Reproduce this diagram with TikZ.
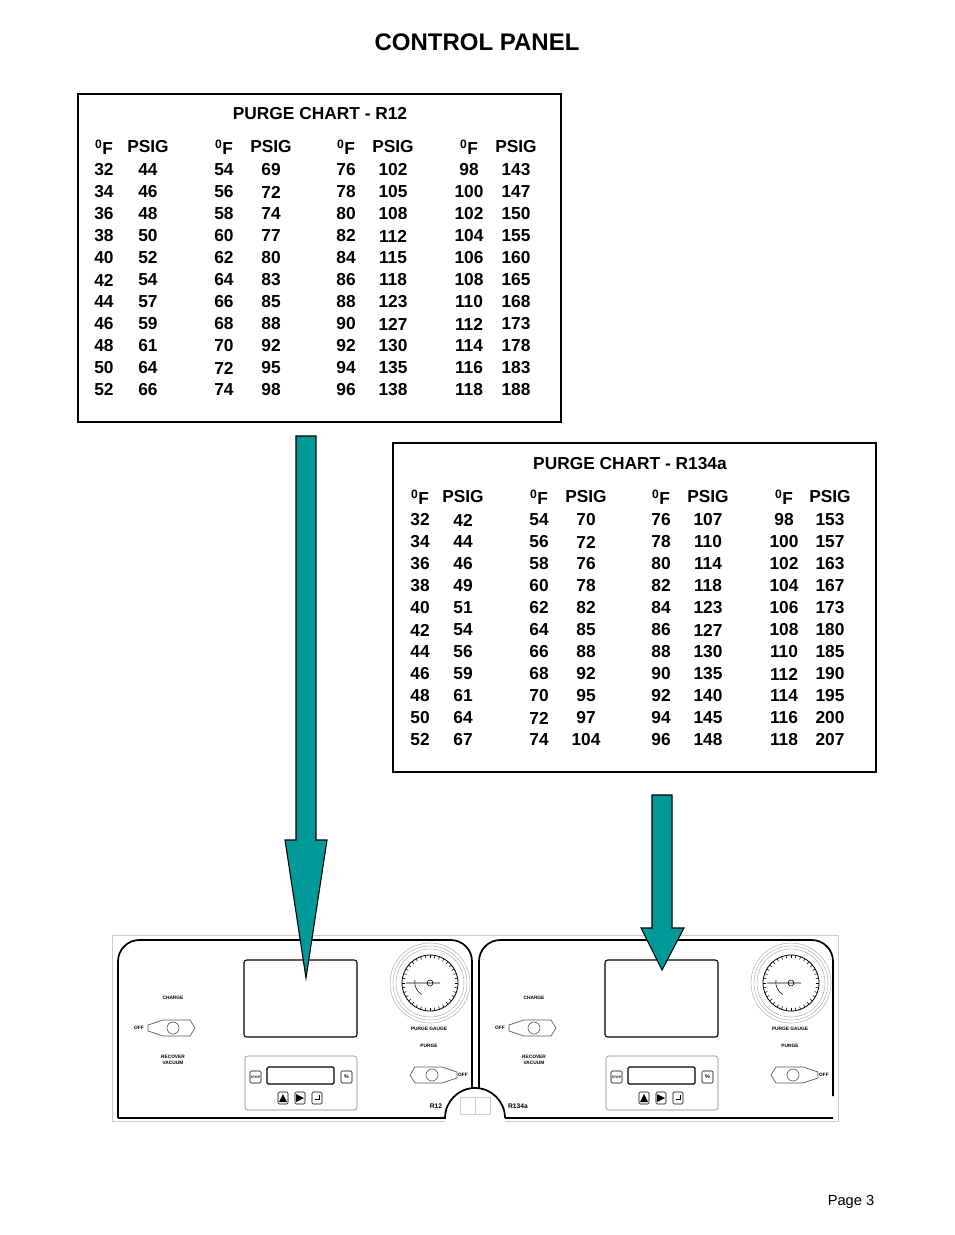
\documentclass[tikz,border=0pt]{standalone}
\usepackage{fontspec}
\setmainfont{Liberation Sans}
\usepackage{tikz}
\definecolor{teal1}{RGB}{0,153,153}
\newcommand{\chartcol}[4]{% x of F, x of PSIG, first row y, data
  \node[cell] at (#1,#3-23) {\textsuperscript{0}F};
  \node[cell] at (#2,#3-23) {PSIG};
  \foreach \f/\p [count=\r from 0] in {#4} {
    \node[cell] at (#1,{#3+22*\r}) {\f};
    \node[cell] at (#2,{#3+22*\r}) {\p};
  }}
\newcommand{\knob}[1]{% #1 = 1 for wide end right, -1 for wide end left
  \draw[gray!70!black, line width=0.5pt, xscale=#1] (-25,-3) -- (-10,-8) -- (17,-8) -- (22,0) -- (17,8) -- (-10,8) -- (-25,3) -- cycle;
  \draw[gray!70!black, line width=0.5pt] (0,0) circle (6);}
\newcommand{\unitpanel}[1]{%
  % outline with the notch at the lower right or left
  \draw[line width=1.3pt, rounded corners=16] (0,178) -- (0,0) -- (354,0) -- (354,156) -- ++(0,0);
  \node[tiny] at (55,58) {CHARGE};
  \begin{scope}[shift={(55,88)}]\knob{1}\end{scope}
  \node[tiny] at (21,88) {OFF};
  \node[tiny, align=center] at (55,120) {RECOVER\\VACUUM};
  \draw[line width=0.8pt, rounded corners=2] (126,20) rectangle (239,97);
  % purge gauge
  \begin{scope}[shift={(312,43)}]
    \draw[gray!60] (0,0) circle (40) (0,0) circle (37) (0,0) circle (34);
    \draw[line width=0.6pt] (0,0) circle (28);
    \foreach \a in {0,10,...,350} \draw (\a:25) -- (\a:28);
    \draw (-24,0) -- (10,0) (0,0) circle (3);
    \draw (-15,-3) arc (190:120:14);
  \end{scope}
  \node[tiny] at (311,89) {PURGE GAUGE};
  \node[tiny] at (311,106) {PURGE};
  \begin{scope}[shift={(314,135)}]\knob{-1}\end{scope}
  \node[tiny] at (345,135) {OFF};
  % keypad
  \draw[gray, rounded corners=2] (127,116) rectangle (239,170);
  \draw[rounded corners=1] (132,131) rectangle (143,143);
  \node[font=\fontsize{2.5}{3}\selectfont\bfseries] at (137.5,137) {STOP};
  \draw[line width=0.9pt, rounded corners=1] (149,127) rectangle (216,144);
  \draw[rounded corners=1] (223,131) rectangle (234,143);
  \node[font=\fontsize{4}{4}\selectfont\bfseries] at (228.5,137) {\%};
  \foreach \x in {165,182,199} \draw[rounded corners=1] (\x-5,152) rectangle (\x+5,164);
  \fill (161,162) -- (169,162) -- (165,154) -- cycle;
  \fill (178,154) -- (178,162) -- (186,158) -- cycle;
  \draw (201,155) -- (201,159) -- (197,159);
  \node[font=\bfseries\fontsize{5}{6}\selectfont] at #1;}
\tikzset{
  cell/.style={font=\bfseries\fontsize{13}{15}\selectfont, inner sep=0pt, anchor=center},
  charttitle/.style={font=\bfseries\fontsize{13}{15}\selectfont},
  chartbox/.style={draw, line width=1pt},
  bigarrow/.style={fill=teal1, draw=black, line width=0.8pt},
  tiny/.style={font=\bfseries\fontsize{3.6}{4}\selectfont, inner sep=0pt}
}
\begin{document}
\begin{tikzpicture}[x=0.75pt, y=-0.75pt]
  \useasboundingbox (0,0) rectangle (954,1235);
  \node[font=\bfseries\fontsize{18}{20}\selectfont] (title) at (477,42) {CONTROL PANEL};
  % chart for R12
  \draw[chartbox] (78,94) rectangle (561,422);
  \node[charttitle] (r12title) at (320,114) {PURGE CHART - R12};
  \chartcol{104}{148}{170}{32/44,34/46,36/48,38/50,40/52,42/54,44/57,46/59,48/61,50/64,52/66}
  \chartcol{224}{271}{170}{54/69,56/72,58/74,60/77,62/80,64/83,66/85,68/88,70/92,72/95,74/98}
  \chartcol{346}{393}{170}{76/102,78/105,80/108,82/112,84/115,86/118,88/123,90/127,92/130,94/135,96/138}
  \chartcol{469}{516}{170}{98/143,100/147,102/150,104/155,106/160,108/165,110/168,112/173,114/178,116/183,118/188}
  % chart for R134a
  \draw[chartbox] (393,443) rectangle (876,772);
  \node[charttitle] (r134title) at (630,464) {PURGE CHART - R134a};
  \chartcol{420}{463}{520}{32/42,34/44,36/46,38/49,40/51,42/54,44/56,46/59,48/61,50/64,52/67}
  \chartcol{539}{586}{520}{54/70,56/72,58/76,60/78,62/82,64/85,66/88,68/92,70/95,72/97,74/104}
  \chartcol{661}{708}{520}{76/107,78/110,80/114,82/118,84/123,86/127,88/130,90/135,92/140,94/145,96/148}
  \chartcol{784}{830}{520}{98/153,100/157,102/163,104/167,106/173,108/180,110/185,112/190,114/195,116/200,118/207}
  % control panel
  \draw[gray!40] (112,935) rectangle (838,1121);
  \begin{scope}[shift={(118,940)}]\unitpanel{(318,166) {R12}}\end{scope}
  \begin{scope}[shift={(479,940)}]\unitpanel{(39,166) {R134a}}\end{scope}
  \fill[white] (475,1118) circle (30);
  \draw[line width=1.3pt] (118,1118) -- (445,1118) arc (180:270:30) (505,1118) arc (0:-90:30);
  \draw[line width=1.3pt] (505,1118) -- (833,1118);
  \draw[gray!40] (460,1097) rectangle (490,1114) (475,1097) -- (475,1114);
  % arrows
  \draw[bigarrow] (296,436) -- (316,436) -- (316,840) -- (327,840) -- (306,978) -- (285,840) -- (296,840) -- cycle;
  \draw[bigarrow] (652,795) -- (672,795) -- (672,928) -- (684,928) -- (662,970) -- (641,928) -- (652,928) -- cycle;
  \node[font=\fontsize{11}{13}\selectfont] (page) at (851,1202) {Page 3};
\end{tikzpicture}
\end{document}
